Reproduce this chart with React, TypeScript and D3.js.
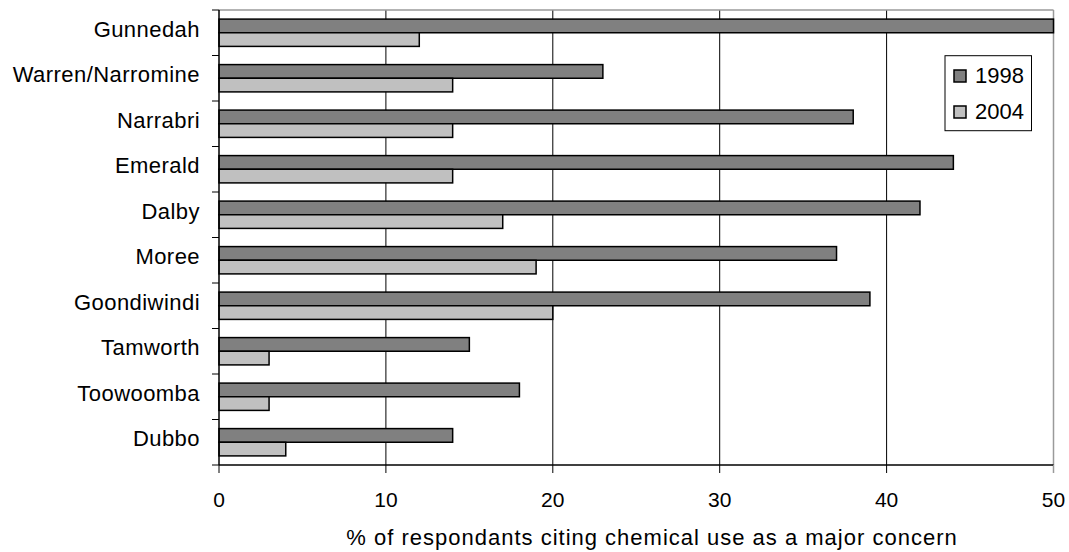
import React from "react";
import * as d3 from "d3";

const categories = [
  "Gunnedah",
  "Warren/Narromine",
  "Narrabri",
  "Emerald",
  "Dalby",
  "Moree",
  "Goondiwindi",
  "Tamworth",
  "Toowoomba",
  "Dubbo",
];
const values1998 = [50, 23, 38, 44, 42, 37, 39, 15, 18, 14];
const values2004 = [12, 14, 14, 14, 17, 19, 20, 3, 3, 4];
const seriesNames = ["1998", "2004"];
const xTicks = [0, 10, 20, 30, 40, 50];
const axisTitle = "% of respondants citing chemical use as a major concern";

const W = 1069;
const H = 552;
const left = 219;
const right = 1053.5;
const top = 10;
const bottom = 465;
const colors = ["#808080", "#c0c0c0"];
const font = "'Liberation Sans', Arial, sans-serif";

export default function App() {
  const x = d3.scaleLinear().domain([0, 50]).range([left, right]);
  const y = d3.scaleBand<string>().domain(categories).range([top, bottom]).padding(0);
  const bw = y.bandwidth();
  const barH = bw * 0.3;
  const groupOff = bw * 0.2;
  const series = [values1998, values2004];
  const boundaries = d3.range(categories.length + 1).map((i) => top + i * bw);

  return (
    <svg
      width={W}
      height={H}
      style={{ position: "absolute", left: 0, top: 0, background: "#fff" }}
      fontFamily={font}
    >
      {/* gridlines */}
      {xTicks.slice(1, -1).map((t) => (
        <line key={"g" + t} x1={x(t)} x2={x(t)} y1={top} y2={bottom} stroke="#000" strokeWidth={1} />
      ))}
      {/* plot border (top/right) */}
      <line x1={left} x2={right} y1={top} y2={top} stroke="#9a9a9a" strokeWidth={1.5} />
      <line x1={right} x2={right} y1={top} y2={bottom + 8} stroke="#9a9a9a" strokeWidth={1.5} />
      {/* bars */}
      {categories.map((c, i) =>
        series.map((s, k) => (
          <rect
            key={c + k}
            x={x(0)}
            y={(y(c) as number) + groupOff + k * barH}
            width={x(s[i]) - x(0)}
            height={barH}
            fill={colors[k]}
            stroke="#000"
            strokeWidth={1.5}
          />
        ))
      )}
      {/* y axis */}
      <line x1={left} x2={left} y1={top} y2={bottom} stroke="#000" strokeWidth={1.5} />
      {boundaries.map((b, i) => (
        <line key={"yt" + i} x1={left - 7} x2={left} y1={b} y2={b} stroke="#000" strokeWidth={1} />
      ))}
      {categories.map((c) => (
        <text
          key={"yl" + c}
          x={200}
          y={(y(c) as number) + bw / 2 + 4}
          textAnchor="end"
          fontSize={22}
          letterSpacing={0.45}
          fill="#000"
        >
          {c}
        </text>
      ))}
      {/* x axis */}
      <line x1={left} x2={right} y1={bottom} y2={bottom} stroke="#000" strokeWidth={1.5} />
      {xTicks.map((t, i) => (
        <line
          key={"xt" + t}
          x1={x(t)}
          x2={x(t)}
          y1={bottom}
          y2={bottom + 8}
          stroke={i === xTicks.length - 1 ? "#9a9a9a" : "#000"}
          strokeWidth={1}
        />
      ))}
      {xTicks.map((t) => (
        <text key={"xl" + t} x={x(t)} y={507} textAnchor="middle" fontSize={21} fill="#000">
          {t}
        </text>
      ))}
      <text x={652} y={545} textAnchor="middle" fontSize={22} letterSpacing={1} fill="#000">
        {axisTitle}
      </text>
      {/* legend */}
      <rect x={945} y={55.7} width={86.5} height={75} fill="#fff" stroke="#000" strokeWidth={1} />
      {seriesNames.map((n, k) => (
        <g key={"lg" + n}>
          <rect x={954} y={70 + k * 36} width={12} height={12} fill={colors[k]} stroke="#000" strokeWidth={1.5} />
          <text x={975} y={82.7 + k * 36} fontSize={22} fill="#000">
            {n}
          </text>
        </g>
      ))}
    </svg>
  );
}
